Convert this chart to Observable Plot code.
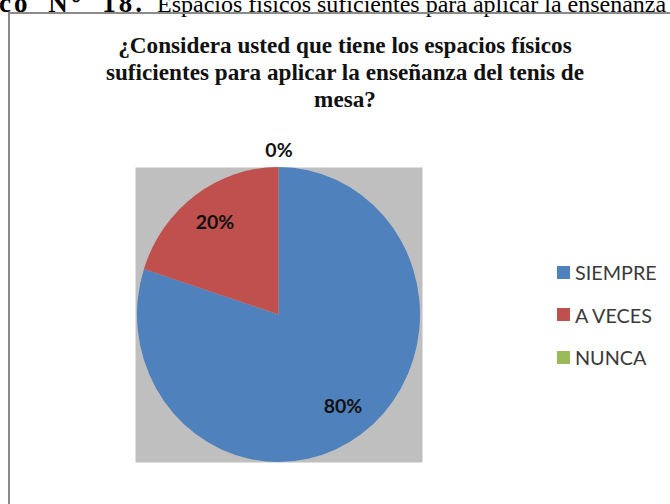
<!DOCTYPE html>
<html>
<head>
<meta charset="utf-8">
<script src="https://cdn.jsdelivr.net/npm/d3@7"></script>
<script src="https://cdn.jsdelivr.net/npm/@observablehq/plot@0.6"></script>
<style>
  html, body { margin: 0; padding: 0; background: #fff; }
  body { width: 670px; height: 504px; overflow: hidden; position: relative; }
  #header { position: absolute; left: -1px; top: -9px; white-space: nowrap;
    font-family: "Liberation Serif", "Times New Roman", serif; font-size: 24px; line-height: 24px; color: #000; }
  #header b { font-size: 27px; letter-spacing: 3px; word-spacing: 8px; margin-right: 6px; }
  #box { position: absolute; left: 8px; top: 12px; width: 700px; height: 600px; border: 2px solid #8a8a8a; box-sizing: border-box; }
  #title { position: absolute; left: 0; width: 690px; top: 32px; text-align: center;
    font-family: "Liberation Serif", "Times New Roman", serif; font-weight: bold; font-size: 23.2px; line-height: 27px; color: #111; }
  #chart { position: absolute; left: 100px; top: 130px; }
  #legend { position: absolute; left: 557px; top: 251px; font-family: Lato, "Open Sans", sans-serif; font-size: 19.8px; color: #3a3a3a; }
  .row { display: flex; align-items: center; height: 42.5px; }
  .sw { width: 13px; height: 13px; margin-right: 5px; }
</style>
</head>
<body>
<div id="header"><b>co N° 18.</b> Espacios físicos suficientes para aplicar la enseñanza</div>
<div id="box"></div>
<div id="title">¿Considera usted que tiene los espacios físicos<br>suficientes para aplicar la enseñanza del tenis de<br>mesa?</div>
<div id="chart"></div>
<div id="legend"></div>
<script>
const categories = ["SIEMPRE", "A VECES", "NUNCA"];
const values = [80, 20, 0];
const valueLabels = ["80%", "20%", "0%"];
const colors = ["#4F81BD", "#C0504D", "#9BBB59"];

const data = categories.map((c, i) => ({category: c, value: values[i], label: valueLabels[i], color: colors[i]}));
const arcs = d3.pie().sort(null).value(d => d.value)(data);
const mid = a => (a.startAngle + a.endAngle) / 2;
const labelRadius = a => a.data.value === 0 ? 1.115 : 0.77;

const pieMark = Plot.dot(arcs, {
  x: () => 0, y: () => 0,
  render(index, scales, values, dimensions, context) {
    const {x, y} = scales;
    const cx = x(0), cy = y(0);
    const rx = x(1) - x(0), ry = y(0) - y(1);
    const g = d3.create("svg:g").attr("transform", `translate(${cx},${cy}) scale(${rx},${ry})`);
    const arcGen = d3.arc().innerRadius(0).outerRadius(1);
    g.selectAll("path").data(arcs.filter(a => a.endAngle > a.startAngle)).join("path")
      .attr("d", arcGen)
      .attr("fill", a => a.data.color);
    return g.node();
  }
});

const chart = Plot.plot({
  width: 340,
  height: 345,
  marginLeft: 37,
  marginRight: 20,
  marginTop: 37,
  marginBottom: 13,
  x: {domain: [-1, 1], axis: null},
  y: {domain: [-1, 1], axis: null},
  style: {background: "transparent", overflow: "visible"},
  marks: [
    Plot.frame({fill: "#bfbfbf", stroke: null, insetLeft: -2, insetRight: -2}),
    pieMark,
    Plot.text(arcs, {
      x: a => Math.sin(mid(a)) * labelRadius(a),
      y: a => Math.cos(mid(a)) * labelRadius(a),
      text: a => a.data.label,
      fontSize: 19.5,
      fontWeight: "bold",
      fontFamily: "Lato, 'Open Sans', sans-serif",
      fill: "#111"
    })
  ]
});
document.getElementById("chart").appendChild(chart);

const legend = document.getElementById("legend");
data.forEach(d => {
  const row = document.createElement("div");
  row.className = "row";
  const sw = document.createElement("div");
  sw.className = "sw";
  sw.style.background = d.color;
  const t = document.createElement("span");
  t.textContent = d.category;
  row.appendChild(sw); row.appendChild(t);
  legend.appendChild(row);
});
</script>
</body>
</html>
